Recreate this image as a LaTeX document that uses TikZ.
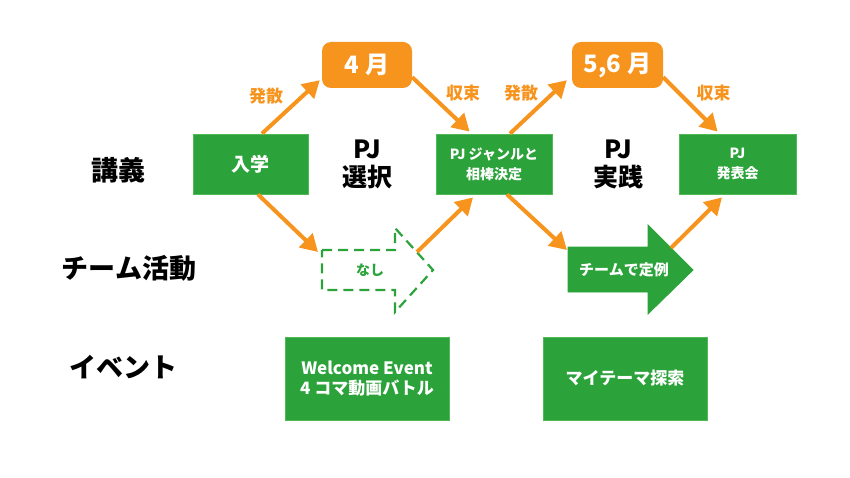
\documentclass[tikz,border=0pt]{standalone}
\usepackage{fontspec}
\setmainfont{Noto Sans CJK JP}
\usetikzlibrary{arrows.meta,calc}
\definecolor{gfill}{RGB}{43,163,58}
\definecolor{gline}{RGB}{80,185,85}
\definecolor{orng}{RGB}{247,148,30}
\begin{document}
\begin{tikzpicture}[x=1pt,y=-1pt,
  gbox/.style={draw=gline, line width=0.8pt, fill=gfill, text=white, inner sep=0pt, align=center},
  obox/.style={fill=orng, rounded corners=9pt, text=white, inner sep=0pt, font=\fontsize{24}{28}\selectfont\bfseries},
  flow/.style={draw=orng, line width=4pt, -{Triangle[length=17pt,width=19pt]}},
  rowlabel/.style={font=\fontsize{27}{30}\selectfont\bfseries},
  phase/.style={font=\fontsize{25}{28}\selectfont\bfseries, align=center},
  flowlabel/.style={text=orng, font=\fontsize{17}{20}\selectfont\bfseries},
  boxtext/.style={font=\fontsize{14}{20}\selectfont\bfseries},
  dashedarrow/.style={draw=gfill, line width=2.2pt, dash pattern=on 10pt off 6pt},
  solidarrow/.style={fill=gfill, draw=gfill, line width=0.8pt},
]
\useasboundingbox (0,0) rectangle (850,478);

% row labels
\node[rowlabel] (kougi) at (118,170) {講義};
\node[rowlabel] (team) at (129,268) {チーム活動};
\node[rowlabel] (event) at (123,367) {イベント};

% lecture row
\node[gbox, minimum width=115pt, minimum height=60pt, font=\fontsize{19}{22}\selectfont\bfseries] (nyugaku) at (250.5,164) {入学};
\node[gbox, minimum width=116pt, minimum height=60pt, boxtext] (genre) at (494,164) {PJ ジャンルと\\相棒決定};
\node[gbox, minimum width=117pt, minimum height=60pt, boxtext] (happyo) at (737.5,164) {PJ\\発表会};

% months
\node[obox, minimum width=90pt, minimum height=46pt] (apr) at (367,65) {4 月};
\node[obox, minimum width=91pt, minimum height=46pt] (may) at (617.5,65) {5,6 月};

% phase labels
\node[phase] (sentaku) at (367,164) {PJ\\選択};
\node[phase] (jissen) at (618,164) {PJ\\実践};

% team activity shapes
\coordinate (nA) at (322,250);
\coordinate (nB) at (395,250);
\coordinate (nC) at (395,228);
\coordinate (nTip) at (433,270);
\coordinate (nD) at (395,312);
\coordinate (nE) at (395,290);
\coordinate (nF) at (322,290);
\coordinate (nOut) at (417,252);
\draw[dashedarrow] (nA) -- (nB) -- (nC) -- (nTip) -- (nD) -- (nE) -- (nF) -- cycle;
\node[boxtext, text=gfill] (nashi) at (370,270) {なし};

\coordinate (tA) at (568,247);
\coordinate (tB) at (648,247);
\coordinate (tC) at (648,225);
\coordinate (tTip) at (693,270);
\coordinate (tD) at (648,314);
\coordinate (tE) at (648,292);
\coordinate (tF) at (568,292);
\coordinate (tOut) at (671,248);
\draw[solidarrow] (tA) -- (tB) -- (tC) -- (tTip) -- (tD) -- (tE) -- (tF) -- cycle;
\node[text=white, font=\fontsize{15}{20}\selectfont\bfseries] (teirei) at (624,270) {チームで定例};

% events
\node[gbox, minimum width=164pt, minimum height=83pt, font=\fontsize{17}{20}\selectfont\bfseries] (welcome) at (367,378.5) {Welcome Event\\4 コマ動画バトル};
\node[gbox, minimum width=164pt, minimum height=83pt, font=\fontsize{17}{20}\selectfont\bfseries] (mytheme) at (625,378.5) {マイテーマ探索};

% connectors
\draw[flow] ([xshift=11.5pt]nyugaku.north) -- ([xshift=-2pt,yshift=8pt]apr.south west);
\draw[flow] ([yshift=11pt]apr.south east) -- ([xshift=34pt,yshift=2pt]genre.north west);
\draw[flow] ([xshift=16pt]genre.north) -- ([xshift=-5pt,yshift=8pt]may.south west);
\draw[flow] ([yshift=11pt]may.south east) -- ([xshift=39pt,yshift=2pt]happyo.north west);
\draw[flow] ([xshift=7.5pt]nyugaku.south) -- ([xshift=-4pt,yshift=-2pt]nA);
\draw[flow] (nOut) -- ([xshift=-21pt,yshift=-3pt]genre.south);
\draw[flow] ([xshift=13pt]genre.south) -- ([xshift=-1pt,yshift=-3pt]tA);
\draw[flow] (tOut) -- ([xshift=-15.5pt,yshift=-3pt]happyo.south);

% flow labels
\node[flowlabel] (hassan1) at (266,96) {発散};
\node[flowlabel] (shusoku1) at (463,93) {収束};
\node[flowlabel] (hassan2) at (521,93) {発散};
\node[flowlabel] (shusoku2) at (713.5,93) {収束};
\end{tikzpicture}
\end{document}
